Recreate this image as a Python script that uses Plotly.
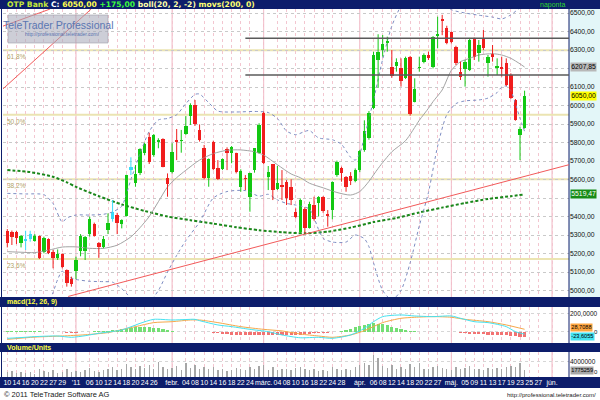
import plotly.graph_objects as go

# ---------------- DATA ----------------
opens = [5322, 5318, 5316, 5255, 5266, 5278, 5268, 5295, 5208, 5277,
         5210, 5174, 5195, 5111, 5060, 5105, 5215, 5215, 5304, 5359,
         5259, 5235, 5327, 5385, 5410, 5358, 5405, 5652, 5579, 5633,
         5741, 5830, 5732, 5802, 5817, 5606, 5642, 5814, 5806, 5846,
         5943, 6003, 5868, 5770, 5606, 5805, 5660, 5655, 5763, 5741,
         5741, 5561, 5610, 5507, 5651, 5741, 5961, 5612, 5684, 5547,
         5570, 5588, 5561, 5426, 5318, 5440, 5340, 5460, 5471, 5505,
         5412, 5435, 5624, 5660, 5612, 5620, 5590, 5650, 5760, 5823,
         5985, 6245, 6300, 6340, 6210, 6215, 6204, 6147, 6264, 6021,
         6201, 6237, 6273, 6206, 6378, 6470, 6417, 6395, 6318, 6183,
         6197, 6192, 6363, 6282, 6363, 6228, 6277, 6201, 6210, 6228,
         6165, 6030, 5841, 5880]
highs = [5332, 5324, 5323, 5300, 5323, 5323, 5305, 5297, 5291, 5282,
         5219, 5222, 5201, 5114, 5075, 5183, 5305, 5295, 5399, 5367,
         5262, 5295, 5417, 5489, 5420, 5385, 5626, 5720, 5678, 5769,
         5799, 5853, 5846, 5823, 5823, 5633, 5796, 5873, 5868, 5943,
         6012, 6030, 5898, 5787, 5714, 5810, 5705, 5714, 5774, 5781,
         5745, 5655, 5624, 5637, 5768, 5904, 5967, 5673, 5684, 5673,
         5651, 5597, 5601, 5444, 5498, 5450, 5480, 5507, 5510, 5510,
         5435, 5590, 5702, 5669, 5619, 5640, 5660, 5760, 5920, 5970,
         6290, 6385, 6381, 6372, 6300, 6255, 6255, 6264, 6268, 6147,
         6264, 6282, 6291, 6375, 6480, 6490, 6431, 6399, 6323, 6237,
         6246, 6363, 6367, 6354, 6408, 6273, 6327, 6255, 6264, 6255,
         6174, 6035, 5886, 6080]
lows = [5233, 5246, 5251, 5233, 5219, 5264, 5264, 5170, 5201, 5197,
        5120, 5165, 5120, 5021, 5021, 5062, 5185, 5165, 5291, 5291,
        5177, 5228, 5305, 5372, 5305, 5336, 5400, 5624, 5561, 5624,
        5732, 5684, 5723, 5769, 5666, 5507, 5633, 5705, 5745, 5841,
        5895, 5890, 5805, 5601, 5561, 5650, 5597, 5651, 5651, 5688,
        5633, 5534, 5543, 5426, 5637, 5741, 5684, 5543, 5489, 5543,
        5489, 5462, 5462, 5390, 5309, 5310, 5335, 5378, 5400, 5420,
        5345, 5385, 5615, 5588, 5534, 5570, 5585, 5640, 5750, 5815,
        5980, 6095, 6264, 6291, 6150, 6183, 6102, 6143, 5945, 6017,
        6183, 6228, 6246, 6200, 6309, 6380, 6331, 6336, 6219, 6138,
        6102, 6186, 6246, 6237, 6300, 6156, 6237, 6165, 6156, 6105,
        6035, 5918, 5705, 5875]
closes = [5258, 5290, 5282, 5295, 5280, 5303, 5295, 5175, 5282, 5205,
          5174, 5195, 5125, 5040, 5035, 5165, 5295, 5290, 5386, 5295,
          5235, 5278, 5363, 5426, 5363, 5381, 5624, 5665, 5628, 5763,
          5792, 5696, 5841, 5812, 5670, 5576, 5750, 5803, 5812, 5889,
          6003, 5900, 5814, 5606, 5709, 5655, 5603, 5709, 5741, 5774,
          5642, 5648, 5603, 5637, 5768, 5895, 5691, 5642, 5545, 5583,
          5560, 5500, 5490, 5400, 5489, 5340, 5470, 5385, 5505, 5428,
          5404, 5588, 5696, 5633, 5561, 5590, 5650, 5752, 5860, 5958,
          6273, 6290, 6330, 6348, 6157, 6237, 6132, 6255, 5952, 6089,
          6210, 6273, 6255, 6372, 6384, 6455, 6336, 6341, 6228, 6156,
          6237, 6354, 6264, 6327, 6309, 6264, 6262, 6213, 6200, 6111,
          6040, 5922, 5875, 6050]
cyan_candles = [4, 5, 23, 27]

# Bollinger(20,2) and 200-day MA at sample candles
bb_up_i = [0, 4, 8, 10, 12, 13, 15, 18, 21, 23, 25, 26, 27, 29, 31, 33, 35, 37, 39, 41, 42, 44, 46,
           50, 54, 57, 59, 61, 63, 65, 66, 68, 71, 73, 75, 76, 77, 78, 80, 82, 84, 86, 88, 92, 95,
           97, 100, 103, 106, 108, 110, 112, 113]
bb_up_v = [5525, 5522, 5518, 5470, 5370, 5392, 5408, 5408, 5412, 5425, 5455, 5520, 5600, 5740, 5860,
           5922, 5930, 5950, 6010, 6060, 6062, 6015, 5970, 5965, 5968, 5962, 5930, 5862, 5842, 5860,
           5865, 5825, 5815, 5790, 5720, 5705, 5740, 5830, 6030, 6250, 6430, 6540, 6620, 6620, 6560,
           6518, 6500, 6488, 6478, 6468, 6490, 6530, 6560]
bb_mid_i = [0, 3, 6, 9, 12, 15, 18, 21, 24, 27, 29, 31, 33, 35, 37, 39, 42, 45, 48, 51, 54, 56, 59,
            62, 64, 66, 69, 72, 75, 77, 79, 81, 84, 87, 90, 92, 93, 95, 97, 99, 101, 103, 106, 108,
            110, 112, 113]
bb_mid_v = [5210, 5207, 5205, 5218, 5235, 5236, 5228, 5228, 5245, 5290, 5340, 5400, 5480, 5560, 5610,
            5650, 5705, 5740, 5758, 5760, 5750, 5732, 5680, 5630, 5610, 5580, 5555, 5530, 5516, 5535,
            5590, 5660, 5750, 5810, 5920, 5985, 6021, 6084, 6190, 6237, 6255, 6273, 6280, 6273, 6255,
            6225, 6207.85]
bb_low_i = [0, 4, 8, 9, 10, 11, 12, 13, 15, 18, 21, 23, 25, 26, 27, 29, 31, 33, 35, 37, 39, 42, 45,
            48, 52, 55, 57, 59, 61, 63, 66, 68, 69, 71, 74, 76, 78, 79, 80, 82, 84, 86, 88, 90, 92,
            94, 96, 98, 100, 103, 105, 107, 108, 109, 110, 111, 112, 113]
bb_low_v = [4895, 4890, 4900, 4930, 4990, 5060, 5105, 5078, 5060, 5050, 5048, 5045, 5010, 4985, 4960,
            4940, 4940, 5000, 5100, 5190, 5270, 5370, 5500, 5535, 5540, 5510, 5520, 5490, 5471, 5462,
            5440, 5330, 5282, 5262, 5262, 5300, 5280, 5237, 5150, 5000, 4950, 5000, 5150, 5350, 5530,
            5780, 5950, 6010, 6025, 6030, 6040, 6070, 6100, 6105, 6080, 6010, 5930, 5860]
ma200_i = [0, 5, 10, 13, 15, 20, 25, 30, 35, 40, 45, 50, 55, 60, 65, 70, 75, 80, 85, 90, 95, 100,
           105, 110, 113]
ma200_v = [5651, 5640, 5615, 5585, 5560, 5510, 5465, 5430, 5400, 5380, 5362, 5342, 5326, 5315, 5309,
           5318, 5340, 5370, 5392, 5422, 5448, 5473, 5495, 5510, 5519.47]

# MACD(12,26,9)
macd_i = [0, 3, 6, 11, 14, 17, 20, 23, 25, 27, 29, 32, 36, 39, 41, 42, 46, 49, 53, 57, 60, 64, 68,
          71, 75, 78, 80, 82, 86, 89, 93, 97, 99, 102, 105, 109, 111, 113]
macd_v = [-68, -60, -50, -43, -57, -40, -14, 5, 21, 55, 92, 135, 128, 133, 135, 121, 75, 57, 28, 3,
          -32, -62, -57, -68, -32, 39, 110, 164, 182, 171, 164, 171, 146, 110, 100, 57, 3, -23.6055]
signal_i = [0, 6, 12, 17, 22, 25, 28, 32, 36, 40, 42, 46, 51, 56, 60, 64, 68, 71, 75, 78, 82, 86,
            89, 93, 97, 100, 105, 109, 113]
signal_v = [-79, -55, -43, -30, -7, 25, 57, 100, 110, 128, 128, 100, 57, 28, 11, -22, -43, -57, -32,
            14, 100, 146, 157, 164, 157, 135, 110, 75, 28.7088]
macd_hist = [8, 9, 9, 8, 8, 7, 6, 6, 5, 4, 3, 2,
             -4, -8, -9, -8, -5,
             2, 5, 6, 8,
             12, 15, 18, 22, 28, 35, 42, 50, 55, 57, 52, 45, 38, 28, 18,
             6, 5, 5, 4, 4, 3, 2, 2, 1,
             -8, -15, -22, -27, -30, -32, -33, -34, -33, -32, -30, -30, -31, -33, -35, -36, -37, -36, -34,
             -30, -25, -20, -15, -12, -10, -6, -3,
             5, 12, 22, 35, 50, 65, 78, 88, 92, 88, 80, 70, 58, 45, 32, 20, 10,
             6, 4, 3, 3, 4, 5, 5, 4, 2,
             -5, -10, -14, -18, -22, -25, -27, -28, -30, -32, -34, -36, -40, -45, -50, -52]

# Volume (millions of units)
volume_m = [1.2, 1.5, 1.0, 1.3, 1.1, 1.4, 0.9, 2.0, 1.6, 1.3, 1.8, 1.0, 1.4, 2.2, 1.2,
            1.5, 1.3, 1.8, 2.4, 1.6, 1.4, 1.7, 2.0, 2.6, 1.8, 2.2, 3.4, 2.5, 2.0, 2.8, 2.4, 3.0, 2.2, 3.9, 2.6, 2.0,
            2.3, 2.8, 1.9, 3.6, 2.4, 3.2, 2.0, 2.7, 2.2, 2.5, 1.8, 2.0, 1.6, 1.9, 2.4, 2.1, 1.7, 2.6, 2.0, 2.8,
            3.0, 1.8, 2.6, 1.9, 2.2, 2.0, 1.8, 2.4, 2.7, 2.1, 1.7, 2.0, 1.6, 1.8, 1.5, 2.6, 2.2, 1.7, 2.0, 1.8, 2.5,
            3.0, 3.6, 3.2, 5.7, 5.0, 2.8, 2.4, 3.1, 2.2, 2.6, 2.0, 3.4, 2.5, 3.6, 2.2, 2.0, 2.7, 2.9, 2.3,
            2.2, 1.9, 2.6, 2.1, 2.4, 2.8, 2.0, 2.2, 1.8, 2.3, 2.0, 2.4, 2.1, 2.6, 2.9, 2.7, 3.6, 1.775259]

# Date axis (trading-day index -> label)
date_tick_idx = [0, 2, 4, 6, 8, 10, 12, 15, 18, 20, 22, 24, 26, 28, 30, 32, 36, 39, 41, 43, 45, 47,
                 49, 51, 53, 56, 59, 61, 63, 65, 67, 69, 71, 73, 77, 80, 82, 84, 86, 88, 90, 92, 94,
                 97, 100, 102, 104, 106, 108, 110, 112, 114, 116, 119]
date_tick_text = ["10", "14", "16", "20", "22", "27", "29", "'11", "06", "10", "12", "14", "18", "20",
                  "24", "26", "febr.", "04", "08", "10", "14", "16", "18", "22", "24", "márc.", "04",
                  "08", "10", "16", "18", "22", "24", "28", "ápr.", "06", "08", "12", "14", "18", "20",
                  "22", "27", "máj.", "05", "09", "11", "13", "17", "19", "23", "25", "27", "jún."]
month_start_idx = [15, 36, 56, 77, 97, 119]

price_ticks = [5000, 5100, 5200, 5300, 5400, 5500, 5600, 5700, 5800, 5900, 6000, 6100, 6200, 6300, 6400, 6500]
price_ticks_hidden = [5500, 6200]   # covered by the value boxes in the original
fib_levels = [6298, 5950, 5601, 5170]
fib_labels = ["61,8%", "50,0%", "38,2%", "23,6%"]
resistance_levels = [6363, 6165]
resistance_start = 52
# trend lines: (index0, price0, index1, price1)
trend_lines = [(-0.94, 6090, 18.3, 6521), (-0.94, 6429, 9.3, 6521), (13.3, 4968, 122.7, 5680)]

# ---------------- FIGURE ----------------
W, H = 600, 400
X_LEFT, X_RIGHT = 3, 569
XR = [-0.94, 122.7]
FONT = "Liberation Sans"
HFONT = "DejaVu Sans"
NAVY = "#0d1d6b"


def py(p):
    return 1 - p / H


def px(p):
    return p / W


n = len(closes)
idx = list(range(n))


def kind(i):
    if i in cyan_candles:
        return 'c'
    return 'g' if closes[i] >= opens[i] else 'r'


fig = go.Figure()

fig.add_trace(go.Scatter(x=ma200_i, y=ma200_v, mode='lines',
                         line=dict(color='#1a871a', width=2, dash='3px,2px', shape='spline', smoothing=0.6),
                         xaxis='x', yaxis='y', hoverinfo='skip'))
fig.add_trace(go.Scatter(x=bb_mid_i, y=bb_mid_v, mode='lines',
                         line=dict(color='#a4a4a4', width=1, shape='spline', smoothing=0.7),
                         xaxis='x', yaxis='y', hoverinfo='skip'))
for xi, yv in ((bb_up_i, bb_up_v), (bb_low_i, bb_low_v)):
    fig.add_trace(go.Scatter(x=xi, y=yv, mode='lines',
                             line=dict(color='#7d8cc2', width=1, dash='dot', shape='spline', smoothing=0.7),
                             xaxis='x', yaxis='y', hoverinfo='skip'))

colors = {'g': '#12c812', 'r': '#f01e1e', 'c': '#3adcf8'}
for k, col in colors.items():
    sel = [i for i in idx if kind(i) == k]
    hts, bases = [], []
    for i in sel:
        h = abs(closes[i] - opens[i])
        hh = max(h, 7)
        hts.append(hh)
        bases.append(min(opens[i], closes[i]) - (hh - h) / 2)
    fig.add_trace(go.Bar(x=sel, y=hts, base=bases, width=0.74,
                         marker=dict(color=col, line=dict(width=0)),
                         xaxis='x', yaxis='y', hoverinfo='skip'))
    wx, wy = [], []
    for i in sel:
        wx += [i, i, None]
        wy += [lows[i], highs[i], None]
    fig.add_trace(go.Scatter(x=wx, y=wy, mode='lines', line=dict(color=col, width=1),
                             xaxis='x', yaxis='y', hoverinfo='skip'))

# MACD panel
fig.add_trace(go.Bar(x=idx, y=macd_hist, width=0.7,
                     marker=dict(color=['#74de74' if v >= 0 else '#f27272' for v in macd_hist],
                                 line=dict(width=0)),
                     xaxis='x2', yaxis='y2', hoverinfo='skip'))
fig.add_trace(go.Scatter(x=signal_i, y=signal_v, mode='lines',
                         line=dict(color='#f6a84a', width=1, shape='spline', smoothing=0.7),
                         xaxis='x2', yaxis='y2', hoverinfo='skip'))
fig.add_trace(go.Scatter(x=macd_i, y=macd_v, mode='lines',
                         line=dict(color='#44e2f0', width=1, shape='spline', smoothing=0.7),
                         xaxis='x2', yaxis='y2', hoverinfo='skip'))

# Volume panel
fig.add_trace(go.Bar(x=idx, y=[v * 1e6 for v in volume_m], width=0.3,
                     marker=dict(color='#a6a6a6', line=dict(width=0)),
                     xaxis='x3', yaxis='y3', hoverinfo='skip'))

# ---------------- decorations ----------------
shapes = []


def prect(x0, y0, x1, y1, color, layer='below', lw=0, lc=None):
    return dict(type='rect', xref='paper', yref='paper', x0=px(x0), x1=px(x1), y0=py(y1), y1=py(y0),
                fillcolor=color, line=dict(width=lw, color=lc or color), layer=layer)


shapes += [prect(0, 0, 600, 9, NAVY), prect(0, 297, 600, 307, NAVY), prect(0, 343, 600, 352, NAVY),
           prect(0, 377, 600, 388, NAVY), prect(569, 9, 600, 297, '#e3f6f8')]
for (ya, yb) in ((9, 297), (307, 343), (352, 377)):
    shapes.append(dict(type='line', xref='paper', yref='paper', x0=px(569), x1=px(569), y0=py(yb), y1=py(ya),
                       line=dict(color=NAVY, width=1), layer='above'))
    shapes.append(dict(type='line', xref='paper', yref='paper', x0=px(1.5), x1=px(1.5), y0=py(yb), y1=py(ya),
                       line=dict(color=NAVY, width=1), layer='above'))

for yref in ('y', 'y2', 'y3'):
    xref = {'y': 'x', 'y2': 'x2', 'y3': 'x3'}[yref]
    for m in month_start_idx:
        shapes.append(dict(type='line', xref=xref, yref=yref + ' domain', x0=m, x1=m, y0=0, y1=1,
                           line=dict(color='#f0b4c2', width=1), layer='below'))

for lv in fib_levels:
    shapes.append(dict(type='line', xref='x domain', yref='y', x0=0, x1=1, y0=lv, y1=lv,
                       line=dict(color='#ebe4b2', width=2), layer='below'))
for lv in resistance_levels:
    shapes.append(dict(type='line', xref='x', yref='y', x0=resistance_start, x1=XR[1], y0=lv, y1=lv,
                       line=dict(color='#5a5a5a', width=1.5), layer='above'))
for (a0, p0, a1, p1) in trend_lines:
    shapes.append(dict(type='line', xref='x', yref='y', x0=a0, x1=a1, y0=p0, y1=p1,
                       line=dict(color='#f25a5a', width=1), layer='above'))

shapes.append(prect(8, 15, 108, 43, 'rgba(168,170,186,0.58)', layer='above', lw=0.6, lc='#a0a0a8'))

ann = []


def text_ann(x, y, t, size, color, anchor='left', bold=False, yanchor='middle', family=FONT):
    return dict(xref='paper', yref='paper', x=px(x), y=py(y), text=('<b>%s</b>' % t) if bold else t,
                showarrow=False, xanchor=anchor, yanchor=yanchor,
                font=dict(family=family, size=size, color=color))


last = closes[-1]
chg = closes[-1] - closes[-2]
fmt = lambda v: ('%.2f' % v).replace('.', ',')
header = ('<span style="color:#c6e83a">OTP Bank</span> '
          '<span style="color:#ffffff">C:</span> <span style="color:#ffff50">%s</span> '
          '<span style="color:#3cff3c">%s%s</span> '
          '<span style="color:#ffffa8">boll(20, 2, -2)</span> '
          '<span style="color:#ffff70">movs(200, 0)</span>') % (fmt(last), '+' if chg >= 0 else '', fmt(chg))
ann.append(text_ann(5, 4.8, header, 7.6, '#ffff50', bold=True, family=HFONT))
ann.append(text_ann(567, 4.8, 'naponta', 7, '#2ed62e', anchor='right'))
ann.append(text_ann(5, 302, 'macd(12, 26, 9)', 7, '#ffff40', bold=True))
ann.append(text_ann(5, 347.5, 'Volume/Units', 7, '#ffff40', bold=True))
ann.append(text_ann(2, 394, '© 2011 TeleTrader Software AG', 7.5, '#202020'))
ann.append(text_ann(598, 394.5, 'http://professional.teletrader.com/', 6, '#202020', anchor='right'))
ann.append(text_ann(58, 25, 'TeleTrader Professional', 10.5, '#5b76b2', anchor='center'))
ann.append(text_ann(62, 34.5, 'http://professional.teletrader.com/', 5, '#5b76b2', anchor='center'))
# zero labels to the right of the lower panels' value boxes
ann.append(dict(xref='paper', yref='y2', x=px(599.5), y=0, xanchor='right', yanchor='middle', text='0',
                showarrow=False, font=dict(family=FONT, size=6, color='#101010')))
ann.append(dict(xref='paper', yref='y3', x=px(599.5), y=0, xanchor='right', yanchor='bottom', text='0',
                showarrow=False, font=dict(family=FONT, size=6, color='#101010')))

for lv, lab in zip(fib_levels, fib_labels):
    ann.append(dict(xref='paper', yref='y', x=px(5), y=lv, yanchor='top', xanchor='left', yshift=-1,
                    text=lab, showarrow=False, font=dict(family=FONT, size=6.5, color='#b2a266')))

boxes = [('y', bb_mid_v[-1], '#b8b8b8', '#000000', 0), ('y', last, '#ffff00', '#000000', 0),
         ('y', ma200_v[-1], '#168c16', '#ffffff', 0),
         ('y2', signal_v[-1], '#ffa640', '#000000', 1.5), ('y2', macd_v[-1], '#44e2f0', '#000000', -2),
         ('y3', volume_m[-1] * 1e6, '#a8a8a8', '#000000', 0)]
for yref, v, bg, fc, ys in boxes:
    if yref == 'y':
        t = fmt(v)
        fs = 6.8
    elif yref == 'y2':
        t = ('%.4f' % v).replace('.', ',')
        fs = 5.6
    else:
        t = '%d' % round(v)
        fs = 5.6
    ann.append(dict(xref='paper', yref=yref, x=px(569.5), y=v, xanchor='left', yanchor='middle', yshift=ys,
                    text=t, showarrow=False, bgcolor=bg, borderpad=0.3,
                    font=dict(family=FONT, size=fs, color=fc)))

xcommon = dict(range=XR, tickvals=date_tick_idx, showgrid=True, gridcolor='#f3c6d0', griddash='dot',
               gridwidth=1, zeroline=False, showline=False, ticks='', domain=[px(X_LEFT), px(X_RIGHT)])
fig.update_layout(
    width=W, height=H, autosize=False,
    margin=dict(l=0, r=0, t=0, b=0, pad=0),
    paper_bgcolor='white', plot_bgcolor='white',
    showlegend=False, barmode='overlay', bargap=0,
    xaxis=dict(**xcommon, anchor='y', showticklabels=False),
    xaxis2=dict(**xcommon, anchor='y2', matches='x', showticklabels=False),
    xaxis3=dict(**xcommon, anchor='y3', matches='x', showticklabels=True, ticktext=date_tick_text,
                tickfont=dict(family=FONT, size=7, color='white'), tickangle=0),
    yaxis=dict(domain=[py(297), py(9)], range=[4965, 6521.6], side='right', anchor='x',
               tickvals=price_ticks,
               ticktext=['' if v in price_ticks_hidden else fmt(v) for v in price_ticks],
               tickfont=dict(family=FONT, size=6.8, color='#101010'), showgrid=True,
               gridcolor='#c9c9c9', griddash='dot', zeroline=False, ticks=''),
    yaxis2=dict(domain=[py(343), py(307)], range=[-118, 267], side='right', anchor='x2',
                tickvals=[0, 200], ticktext=['', '200,0000'],
                tickfont=dict(family=FONT, size=6.5, color='#101010'), showgrid=True,
                gridcolor='#d6d6d6', griddash='dot', zeroline=False, ticks=''),
    yaxis3=dict(domain=[py(377), py(352)], range=[0, 6.5e6], side='right', anchor='x3',
                tickvals=[0, 4000000], ticktext=['', '4000000'],
                tickfont=dict(family=FONT, size=6.5, color='#101010'), showgrid=True,
                gridcolor='#d6d6d6', griddash='dot', zeroline=False, ticks=''),
    shapes=shapes, annotations=ann,
)

fig.write_html("out.html", config={'displayModeBar': False, 'staticPlot': True},
               post_script="document.body.style.margin='0';")
